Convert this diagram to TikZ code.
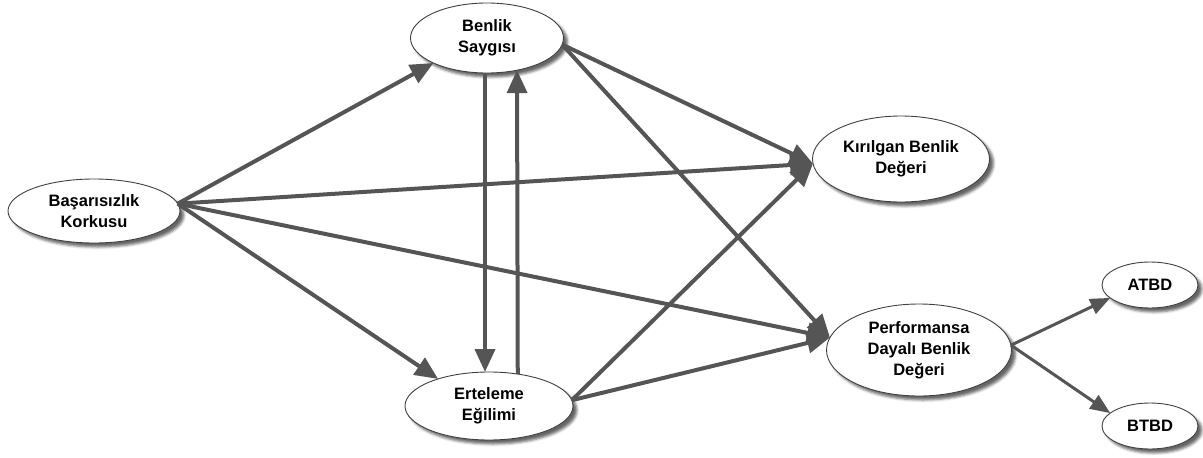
\documentclass[tikz,border=0pt]{standalone}
\usepackage{fontspec}
\setmainfont{Liberation Sans}
\usetikzlibrary{shapes.geometric,arrows.meta,shadows.blur}

\definecolor{edgegray}{HTML}{555555}
\definecolor{rimgray}{HTML}{404040}

\tikzset{
  construct/.style={ellipse, draw=rimgray, line width=0.9pt, fill=white,
    inner sep=0pt, outer sep=0pt, align=center,
    font=\fontsize{16.5}{21}\selectfont\bfseries,
    blur shadow={shadow xshift=4pt, shadow yshift=-4pt,
      shadow blur radius=2.5pt, shadow opacity=60}},
  path/.style={draw=edgegray, line width=4pt,
    -{Triangle[length=23pt, width=20pt]}},
  thinpath/.style={draw=edgegray, line width=3pt,
    -{Triangle[length=20pt, width=16pt]}}
}

\begin{document}
\begin{tikzpicture}[x=1pt, y=-1pt]
  \useasboundingbox (0,0) rectangle (1203,458);

  % latent constructs
  \node[construct, minimum width=153pt, minimum height=70pt] (bs) at (487,38) {Benlik\\Saygısı};
  \node[construct, minimum width=172pt, minimum height=64pt] (bk) at (94,211) {Başarısızlık\\Korkusu};
  \node[construct, minimum width=177pt, minimum height=86pt] (kb) at (901,159) {Kırılgan Benlik\\Değeri};
  \node[construct, minimum width=185pt, minimum height=92pt] (pd) at (919,350) {Performansa\\Dayalı Benlik\\Değeri};
  \node[construct, minimum width=168pt, minimum height=68pt] (ee) at (489,406) {Erteleme\\Eğilimi};
  \node[construct, minimum width=96pt, minimum height=46pt] (at) at (1150,285) {ATBD};
  \node[construct, minimum width=96pt, minimum height=46pt] (bt) at (1150,426) {BTBD};

  % structural paths
  \draw[path] (bk.5) -- (bs.205);
  \draw[path] (bk.5) -- (kb.183);
  \draw[path] (bk.5) -- (pd.172);
  \draw[path] (bk.5) -- (ee.152);

  \draw[path] ([xshift=-2pt]bs.south) -- ([xshift=-4pt]ee.north);
  \draw[path] (ee.48.8) -- (bs.313.2);

  \draw[path] (bs.-5) -- (kb.183);
  \draw[path] (bs.-5) -- (pd.172);

  \draw[path] (ee.4) -- (kb.183);
  \draw[path] (ee.4) -- (pd.172);

  % indicators
  \draw[thinpath] (pd.3) -- (at.198);
  \draw[thinpath] (pd.3) -- (bt.162);
\end{tikzpicture}
\end{document}
